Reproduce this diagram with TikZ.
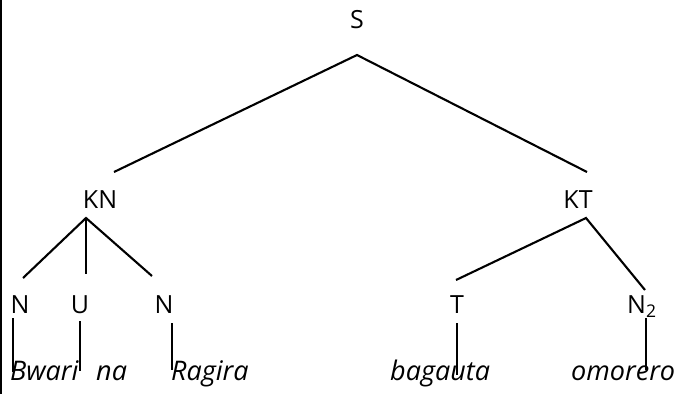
\documentclass[tikz,border=0pt]{standalone}
\usepackage{fontspec}
\setmainfont{Open Sans}
\begin{document}
\begin{tikzpicture}[x=1pt,y=-1pt,
  lbl/.style={anchor=base,inner sep=0pt,font=\fontsize{25}{25}\selectfont},
  word/.style={anchor=base west,inner sep=0pt,font=\fontsize{27}{27}\selectfont\itshape},
  edge/.style={line width=2.1pt}]
\useasboundingbox (0,0) rectangle (690,394);
\fill[white] (0,0) rectangle (690,394);
\draw[line width=2.2pt] (1,0) -- (1,394);
% labels
\node[lbl] (S) at (357,28) {S};
\node[lbl] (KN) at (100,208) {KN};
\node[lbl] (KT) at (578,208) {KT};
\node[lbl] (N1) at (20,313) {N};
\node[lbl] (U) at (80,313) {U};
\node[lbl] (N3) at (164,313) {N};
\node[lbl] (T) at (457,313) {T};
\node[lbl,anchor=base west] (N2) at (627,313) {N\textsubscript{2}};
% words
\node[word] (w1) at (10,380) {Bwari};
\node[word] (w2) at (96,380) {na};
\node[word] (w3) at (171,380) {Ragira};
\node[word] (w4) at (390,380) {bagauta};
\node[word] (w5) at (571,380) {omorero};
% connector ends
\coordinate (Sb) at (357,55);
\coordinate (KNt) at (114,172);
\coordinate (KTt) at (587,172);
\coordinate (KNb) at (86,218);
\coordinate (N1t) at (23,278);
\coordinate (Ut) at (86,274);
\coordinate (N3t) at (152,276);
\coordinate (KTb) at (586,218);
\coordinate (Tt) at (456,280);
\coordinate (N2t) at (645,290);
\coordinate (N1b) at (13,318); \coordinate (w1t) at (13,372);
\coordinate (Ub) at (80,321);  \coordinate (w2t) at (80,371);
\coordinate (N3b) at (172,323); \coordinate (w3t) at (172,370);
\coordinate (Tb) at (457,323); \coordinate (w4t) at (457,375);
\coordinate (N2b) at (646,318); \coordinate (w5t) at (646,370);
% connectors
\draw[edge] (KNt) -- (Sb) -- (KTt);
\draw[edge] (N1t) -- (KNb) -- (N3t);
\draw[edge] (KNb) -- (Ut);
\draw[edge] (Tt) -- (KTb) -- (N2t);
\draw[edge] (N1b) -- (w1t);
\draw[edge] (Ub) -- (w2t);
\draw[edge] (N3b) -- (w3t);
\draw[edge] (Tb) -- (w4t);
\draw[edge] (N2b) -- (w5t);
\end{tikzpicture}
\end{document}
